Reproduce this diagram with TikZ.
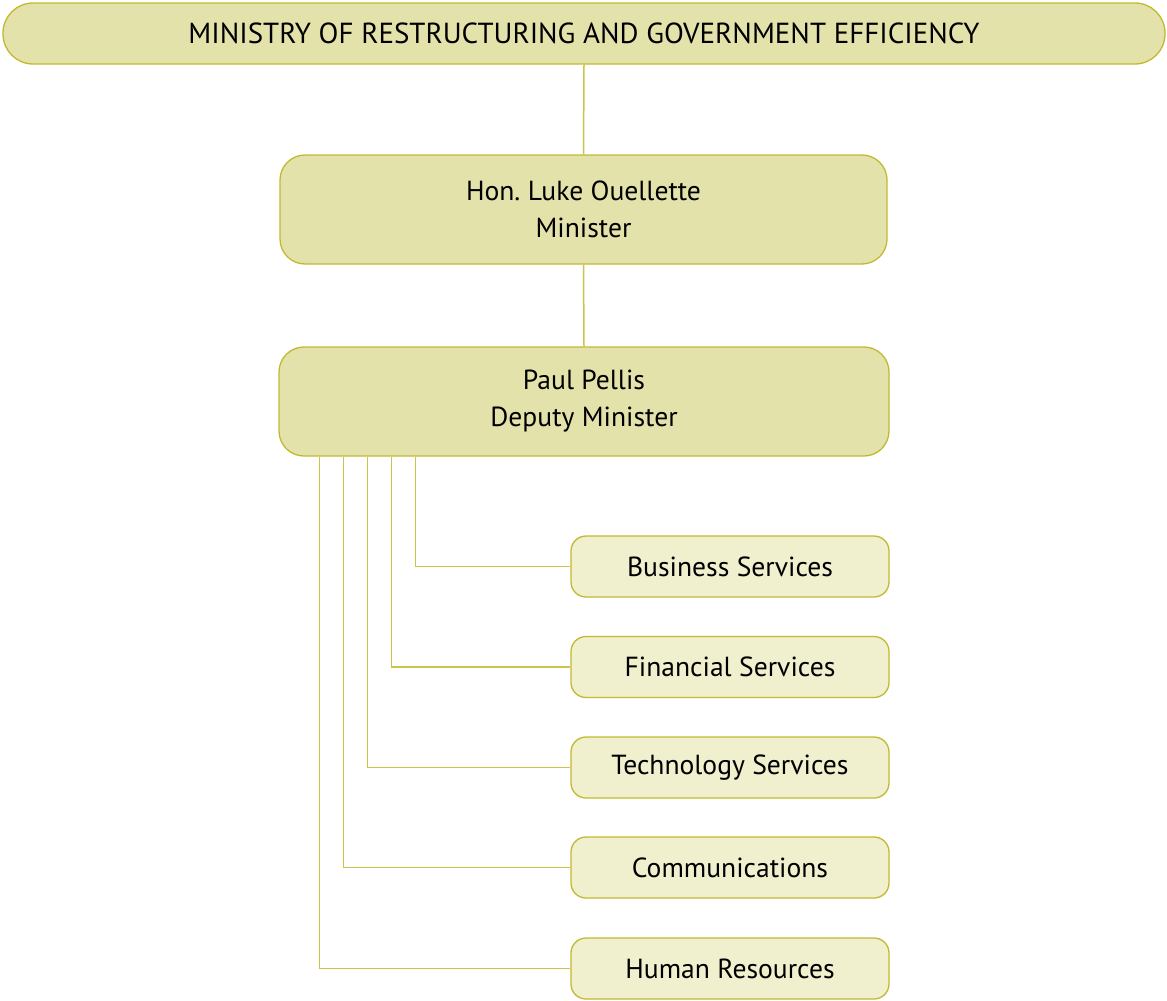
\documentclass[tikz,border=0pt]{standalone}
\usepackage{fontspec}
\setmainfont{PT Sans}
\begin{document}
\frenchspacing
\definecolor{bigfill}{HTML}{E4E2AB}
\definecolor{smallfill}{HTML}{F0EFCE}
\definecolor{edge}{HTML}{C2B930}
\definecolor{wire}{HTML}{CCC34A}
\begin{tikzpicture}[x=1pt,y=-1pt,
  box/.style={draw=edge,line width=1.3pt,align=center,inner sep=0pt,
    font=\fontsize{27.6}{37}\selectfont},
  topbox/.style={box,fill=bigfill,minimum width=1162pt,minimum height=61pt,rounded corners=30pt,
    font=\fontsize{29}{37}\selectfont},
  headbox/.style={box,fill=bigfill,minimum height=109pt,rounded corners=25pt},
  unitbox/.style={box,fill=smallfill,minimum width=318pt,minimum height=61pt,rounded corners=15pt},
  link/.style={draw=wire,line width=1.5pt}]
\useasboundingbox (0,0) rectangle (1167,1001);
\node[topbox] (ministry) at (584,33.5) {MINISTRY OF RESTRUCTURING AND GOVERNMENT EFFICIENCY};
\node[headbox,minimum width=607pt] (minister) at (583.5,209.5) {Hon. Luke Ouellette\\Minister};
\node[headbox,minimum width=610pt] (deputy) at (584,401.5) {Paul Pellis\\Deputy Minister};
\node[unitbox] (bus) at (730,566.5) {Business Services};
\node[unitbox] (fin) at (730,667) {Financial Services};
\node[unitbox] (tech) at (730,767.5) {Technology Services};
\node[unitbox] (comm) at (730,867.5) {Communications};
\node[unitbox] (hr) at (730,968.5) {Human Resources};
\draw[link] (ministry.south) -- (minister.north);
\draw[link] (minister.south) -- (deputy.north);
\draw[link] ([xshift=137pt]deputy.south west) |- (bus.west);
\draw[link] ([xshift=113pt]deputy.south west) |- (fin.west);
\draw[link] ([xshift=89pt]deputy.south west) |- (tech.west);
\draw[link] ([xshift=65pt]deputy.south west) |- (comm.west);
\draw[link] ([xshift=41pt]deputy.south west) |- (hr.west);
\end{tikzpicture}
\end{document}
